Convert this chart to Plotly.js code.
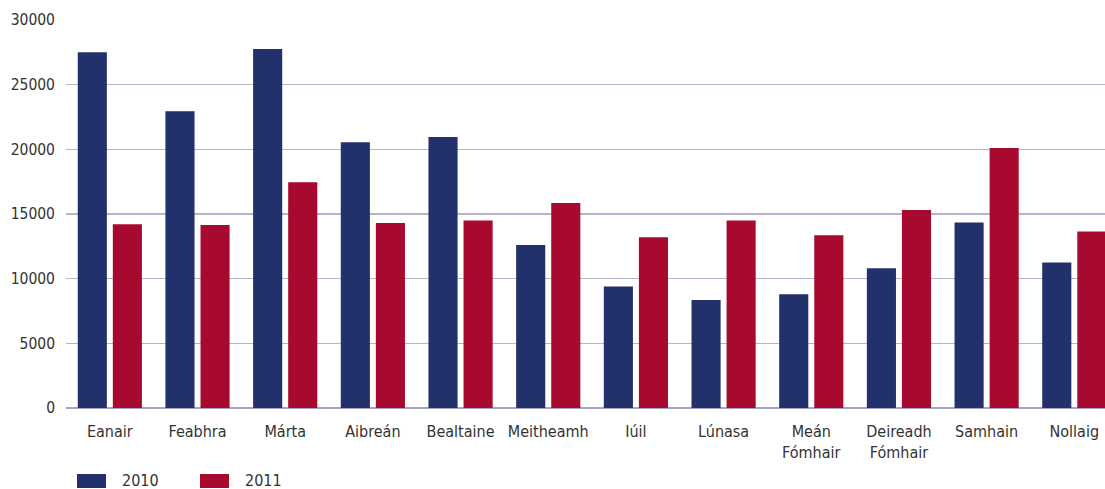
<!DOCTYPE html>
<html>
<head>
<meta charset="utf-8">
<script src="https://cdn.plot.ly/plotly-3.0.1.min.js"></script>
<style>html,body{margin:0;padding:0;background:#fff;}#chart{width:1105px;height:489px;}</style>
</head>
<body>
<div id="chart"></div>
<script>
const months = ["Eanair","Feabhra","Márta","Aibreán","Bealtaine","Meitheamh","Iúil","Lúnasa","Meán<br>Fómhair","Deireadh<br>Fómhair","Samhain","Nollaig"];
const series2010 = [27500, 22950, 27750, 20550, 20950, 12600, 9400, 8350, 8800, 10800, 14350, 11250];
const series2011 = [14200, 14150, 17450, 14300, 14500, 15850, 13200, 14500, 13350, 15300, 20100, 13650];
const seriesNames = ["2010", "2011"];
const yTicks = [0, 5000, 10000, 15000, 20000, 25000, 30000];

const colors = ["#22306b", "#a80a2f"];
const font = "'DejaVu Sans Condensed', 'DejaVu Sans', sans-serif";

const traces = [series2010, series2011].map((vals, i) => ({
  type: "bar",
  x: months,
  y: vals,
  name: seriesNames[i],
  marker: {color: colors[i]},
  showlegend: false,
  hoverinfo: "x+y"
}));

const W = 1105, H = 489, L = 66, R = 0, T = 20, B = 81;
const pw = W - L - R, ph = H - T - B;
const px = x => (x - L) / pw;
const py = y => (H - B - y) / ph;
const shapes = [], annotations = [];
const legX = [77, 200];
seriesNames.forEach((n, i) => {
  shapes.push({type: "rect", xref: "paper", yref: "paper",
    x0: px(legX[i]), x1: px(legX[i] + 29), y0: py(488), y1: py(474),
    fillcolor: colors[i], line: {width: 0}});
  annotations.push({xref: "paper", yref: "paper", x: px(legX[i] + 44), y: py(480),
    xanchor: "left", yanchor: "middle", text: n, showarrow: false, borderpad: 0,
    font: {family: font, size: 16, color: "#333"}});
});

const layout = {
  width: W, height: H,
  margin: {l: L, r: R, t: T, b: B, pad: 0},
  paper_bgcolor: "#fff", plot_bgcolor: "#fff",
  barmode: "group",
  bargap: 0.2,
  bargroupgap: 0.17,
  font: {family: font, size: 16, color: "#333"},
  xaxis: {
    type: "category",
    range: [-0.5, 11.35],
    showgrid: false, showline: false, zeroline: false,
    ticks: "", ticklabelstandoff: 12,
    tickfont: {family: font, size: 16, color: "#333"},
    fixedrange: true
  },
  yaxis: {
    range: [0, 30000],
    tickvals: yTicks,
    ticktext: yTicks.map(String),
    showgrid: true, gridcolor: "#b7b3cb", gridwidth: 1.5,
    zeroline: true, zerolinecolor: "#a9a5c0", zerolinewidth: 1.5,
    showline: false, ticks: "", ticklabelstandoff: 10,
    tickfont: {family: font, size: 15.5, color: "#333"},
    fixedrange: true
  },
  shapes: shapes,
  annotations: annotations,
  showlegend: false
};

Plotly.newPlot("chart", traces, layout, {displayModeBar: false, staticPlot: true});
</script>
</body>
</html>
